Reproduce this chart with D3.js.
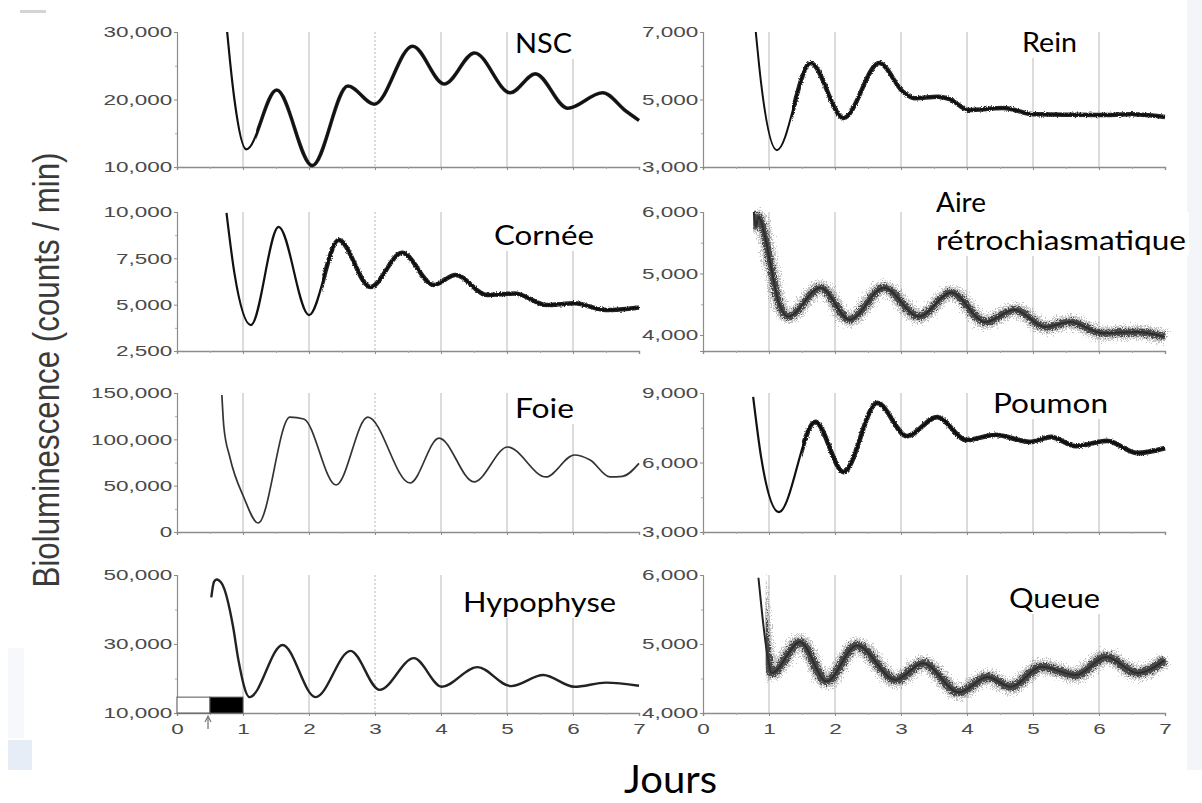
<!DOCTYPE html>
<html><head><meta charset="utf-8">
<script src="https://cdn.jsdelivr.net/npm/d3@7"></script>
<style>body{margin:0;background:#fff}svg{display:block}</style>
</head><body><svg id="c" width="1202" height="803"></svg>
<script>
// ---------- data (day, counts/min) ----------
const dayTicks = [0,1,2,3,4,5,6,7];
const gridDays = [1,2,3,4,5,6];
const halfDays = [0.5,1.5,2.5,3.5,4.5,5.5,6.5];

const nscTicks = [10000,20000,30000];
const reinTicks = [3000,5000,7000];
const corneeTicks = [2500,5000,7500,10000];
const aireTicks = [4000,5000,6000];
const foieTicks = [0,50000,100000,150000];
const poumonTicks = [3000,6000,9000];
const hypoTicks = [10000,30000,50000];
const queueTicks = [4000,5000,6000];

const nscData = [[0.76,30000],[0.8,26000],[0.87,20000],[1.05,12600],[1.51,21400],[2.05,10200],[2.59,22000],[2.99,19300],[3.57,27900],[4.05,22300],[4.51,26900],[5.05,21000],[5.43,23800],[5.92,18700],[6.45,21000],[6.8,18300],[7.0,16900]];
const reinData = [[0.8,7000],[0.88,5490],[1.12,3500],[1.63,6080],[2.13,4450],[2.67,6080],[3.03,5230],[3.2,5040],[3.56,5080],[3.75,5000],[4.02,4690],[4.55,4750],[5.01,4560],[6.0,4540],[6.5,4560],[7.0,4480]];
const corneeData = [[0.75,9950],[0.87,6700],[1.12,3900],[1.54,9200],[2.0,4440],[2.45,8490],[2.93,5950],[3.41,7800],[3.89,6060],[4.22,6600],[4.7,5520],[5.12,5600],[5.6,4980],[6.02,5070],[6.5,4710],[7.0,4850]];
const aireData = [[0.77,6000],[0.8,5770],[0.84,5920],[0.94,5600],[1.03,5110],[1.15,4520],[1.29,4300],[1.78,4770],[2.22,4250],[2.74,4770],[3.27,4300],[3.76,4690],[4.28,4210],[4.72,4410],[5.19,4130],[5.56,4210],[6.06,4030],[6.58,4050],[7.0,3970]];
const foieData = [[0.68,147800],[0.71,113300],[0.8,81000],[1.01,37800],[1.23,9700],[1.71,124000],[1.92,122000],[2.41,50700],[2.89,124000],[3.53,52900],[3.97,101400],[4.5,54000],[5.01,91700],[5.59,59400],[6.02,83100],[6.26,77700],[6.56,59400],[6.75,60000],[7.0,74000]];
const poumonData = [[0.76,8830],[0.88,6240],[1.15,3860],[1.7,7750],[2.13,5590],[2.64,8570],[3.09,7140],[3.55,7960],[3.99,6970],[4.43,7190],[4.95,6890],[5.27,7100],[5.65,6710],[6.12,6930],[6.58,6410],[7.0,6620]];
const hypoData = [[0.52,43500],[0.56,48000],[0.6,48700],[0.68,47500],[0.85,35000],[0.93,25400],[1.1,14600],[1.6,29700],[2.1,14600],[2.63,28000],[3.07,16700],[3.59,25900],[4.01,17600],[4.55,23300],[5.06,17800],[5.55,21000],[6.02,17600],[6.5,18800],[7.0,17900]];
const queueData = [[0.84,5960],[0.9,5400],[0.97,4870],[1.04,4580],[1.47,5030],[1.87,4460],[2.33,4980],[2.92,4480],[3.33,4720],[3.88,4300],[4.31,4520],[4.66,4380],[5.13,4670],[5.65,4550],[6.11,4810],[6.58,4580],[7.0,4770]];

// light/dark bar under Hypophyse
const lightDark = [{from:0,to:0.5,fill:"#ffffff"},{from:0.5,to:1,fill:"#000000"}];
const lightDarkTop = 14600;

// ---------- layout ----------
const svg = d3.select("#c");
const colX = [177, 703];
const plotW = 462;
const rowY = [[32,167],[212,351],[393,532],[575,713]];

const panels = [
 {label:["NSC"], data:nscData, ticks:nscTicks, domain:[10000,30000], col:0,row:0, lab:[[515,53,57]], w:2.2, w2:3.6, from:1.2, noise:0},
 {label:["Rein"], data:reinData, ticks:reinTicks, domain:[3000,7000], col:1,row:0, lab:[[1022,52,55]], w:2, w2:4.5, from:1.35, noise:3},
 {label:["Cornée"], data:corneeData, ticks:corneeTicks, domain:[2500,10000], col:0,row:1, lab:[[494,245,100]], w:2.2, w2:4.5, from:2.2, noise:3},
 {label:["Aire","rétrochiasmatique"], data:aireData, ticks:aireTicks, domain:[3740,6000], col:1,row:1, lab:[[936,212,50],[936,250,250]], w:2, w2:7, from:0.76, noise:8, band:true},
 {label:["Foie"], data:foieData, ticks:foieTicks, domain:[0,150000], col:0,row:2, lab:[[515,418,59]], w:1.7, w2:0, from:9, noise:0, color:"#333"},
 {label:["Poumon"], data:poumonData, ticks:poumonTicks, domain:[3000,9000], col:1,row:2, lab:[[993,413,115]], w:2.2, w2:4.8, from:1.5, noise:3},
 {label:["Hypophyse"], data:hypoData, ticks:hypoTicks, domain:[10000,50000], col:0,row:3, lab:[[463,612,153]], w:2.4, w2:0, from:9, noise:0, color:"#222", bottom:true, ld:true},
 {label:["Queue"], data:queueData, ticks:queueTicks, domain:[4000,6000], col:1,row:3, lab:[[1009,608,91]], w:2, w2:8, from:0.95, noise:8, band:true, bottom:true}
];

// background artefacts of the scan
svg.append("rect").attr("x",1187).attr("y",0).attr("width",15).attr("height",770).attr("fill","#f3f5f8");
svg.append("rect").attr("x",8).attr("y",648).attr("width",16).attr("height",90).attr("fill","#f6f8fb");
svg.append("rect").attr("x",8).attr("y",740).attr("width",24).attr("height",30).attr("fill","#e6edf6");
svg.append("rect").attr("x",20).attr("y",10).attr("width",26).attr("height",3).attr("fill","#d4d4d4");

const defs = svg.append("defs");
[3,8,16].forEach(s=>{
  const f = defs.append("filter").attr("id","grain"+s).attr("x","-3%").attr("y","-40%").attr("width","106%").attr("height","180%");
  f.append("feTurbulence").attr("type","fractalNoise").attr("baseFrequency","0.8").attr("numOctaves",2).attr("seed",s).attr("result","n");
  f.append("feDisplacementMap").attr("in","SourceGraphic").attr("in2","n").attr("scale",s).attr("xChannelSelector","R").attr("yChannelSelector","G");
});

const tickFont = "'Liberation Sans', Arial, sans-serif";
const labFont = "Lato, 'Open Sans', sans-serif";
const fmt = d3.format(",");

panels.forEach((p,pi)=>{
  const x0 = colX[p.col], [top,bot] = rowY[p.row];
  const x = d3.scaleLinear().domain([0,7]).range([x0, x0+plotW]);
  const y = d3.scaleLinear().domain(p.domain).range([bot, top]);
  const g = svg.append("g");

  // vertical grid
  g.selectAll("line.grid").data(gridDays).join("line")
    .attr("x1",d=>x(d)).attr("x2",d=>x(d)).attr("y1",top).attr("y2",bot)
    .attr("stroke","#b8b8b8").attr("stroke-width",1)
    .attr("stroke-dasharray",d=>(p.col===0 && d===3)?"2,2":null);

  // label boxes (hide grid under text)
  p.lab.forEach(l=>{
    g.append("rect").attr("x",l[0]-3).attr("y",Math.min(top,l[1]-24)).attr("width",l[2]+6)
      .attr("height",l[1]+6-Math.min(top,l[1]-24)).attr("fill","#fff");
  });

  // y axis
  const ya = g.append("g").attr("transform",`translate(${x0},0)`)
    .call(d3.axisLeft(y).tickValues(p.ticks).tickSize(3).tickPadding(0).tickFormat(fmt));
  ya.select(".domain").attr("stroke","#8c8c8c").attr("stroke-width",1.2);
  ya.selectAll(".tick line").attr("stroke","#8c8c8c");
  ya.selectAll(".tick text").attr("x",-3.2).attr("transform","scale(1.5,1)")
    .attr("font-family",tickFont).attr("font-size",15).attr("fill","#4a4a4a");
  const minorY = p.ticks.slice(1).map((t,i)=>(t+p.ticks[i])/2);
  const ym = g.append("g").attr("transform",`translate(${x0},0)`)
    .call(d3.axisLeft(y).tickValues(minorY).tickSize(2).tickFormat(""));
  ym.select(".domain").remove(); ym.selectAll(".tick line").attr("stroke","#aaa");

  // x axis
  const xa = g.append("g").attr("transform",`translate(0,${bot})`)
    .call(d3.axisBottom(x).tickValues(dayTicks).tickSize(3).tickFormat(p.bottom?d3.format("d"):""));
  xa.select(".domain").attr("stroke","#8c8c8c").attr("stroke-width",1.4);
  xa.selectAll(".tick line").attr("stroke","#8c8c8c");
  xa.selectAll(".tick text").attr("y",10).attr("dy","0.71em").attr("transform","scale(1.5,1)")
    .attr("font-family",tickFont).attr("font-size",15).attr("fill","#4a4a4a");
  const xm = g.append("g").attr("transform",`translate(0,${bot})`)
    .call(d3.axisBottom(x).tickValues(halfDays).tickSize(2).tickFormat(""));
  xm.select(".domain").remove(); xm.selectAll(".tick line").attr("stroke","#aaa");

  // light/dark bar
  if(p.ld){
    g.selectAll("rect.ld").data(lightDark).join("rect")
      .attr("x",d=>x(d.from)).attr("width",d=>x(d.to)-x(d.from))
      .attr("y",y(lightDarkTop)).attr("height",y(p.domain[0])-y(lightDarkTop))
      .attr("fill",d=>d.fill).attr("stroke","#555").attr("stroke-width",1);
    const ax = x(0.47);
    g.append("line").attr("x1",ax).attr("x2",ax).attr("y1",bot+4).attr("y2",bot+16).attr("stroke","#777").attr("stroke-width",1.3);
    g.append("path").attr("d",`M${ax-3},${bot+9}L${ax},${bot+3}L${ax+3},${bot+9}`).attr("fill","none").attr("stroke","#777").attr("stroke-width",1.2);
  }

  // trace
  const line = d3.line().x(d=>x(d[0])).y(d=>y(d[1])).curve(d3.curveMonotoneX);
  const col = p.color || "#111";
  const dStr = line(p.data);
  if(!p.band){
    g.append("path").attr("d",dStr).attr("fill","none").attr("stroke",col)
      .attr("stroke-width",p.w).attr("stroke-linejoin","round");
  } else {
    g.append("path").attr("d",dStr).attr("fill","none").attr("stroke","#222")
      .attr("stroke-width",p.w).attr("stroke-linejoin","round");
  }
  if(p.w2>0){
    const cid = "clip"+pi;
    defs.append("clipPath").attr("id",cid).append("rect")
      .attr("x",x(p.from)).attr("y",top-30).attr("width",x(7)-x(p.from)+12).attr("height",bot-top+60);
    const cg = g.append("g").attr("clip-path",`url(#${cid})`);
    if(p.band){
      cg.append("path").attr("d",dStr).attr("fill","none").attr("stroke","#555")
        .attr("stroke-width",p.w2+6).attr("stroke-opacity",0.35).attr("filter","url(#grain16)");
      cg.append("path").attr("d",dStr).attr("fill","none").attr("stroke","#2a2a2a")
        .attr("stroke-width",p.w2).attr("stroke-opacity",0.8).attr("filter","url(#grain8)");
    } else {
      cg.append("path").attr("d",dStr).attr("fill","none").attr("stroke",col)
        .attr("stroke-width",p.w2).attr("stroke-linejoin","round").attr("stroke-opacity",0.9)
        .attr("filter",p.noise?`url(#grain${p.noise})`:null);
    }
  }

  // panel labels
  p.label.forEach((t,i)=>{
    const l = p.lab[i];
    g.append("text").attr("x",l[0]).attr("y",l[1]).text(t)
      .attr("font-family",labFont).attr("font-size",26).attr("fill","#000")
      .attr("textLength",l[2]).attr("lengthAdjust","spacingAndGlyphs");
  });
});

// axis titles
svg.append("text").attr("transform","translate(59,370) scale(1.4,1) rotate(-90)").attr("text-anchor","middle")
  .attr("font-family",tickFont).attr("font-size",26).attr("fill","#3a3a3a")
  .attr("textLength",435).attr("lengthAdjust","spacingAndGlyphs")
  .text("Bioluminescence (counts / min)");
svg.append("text").attr("x",624).attr("y",793).text("Jours")
  .attr("font-family",labFont).attr("font-size",38).attr("fill","#000")
  .attr("textLength",93).attr("lengthAdjust","spacingAndGlyphs");
</script></body></html>
